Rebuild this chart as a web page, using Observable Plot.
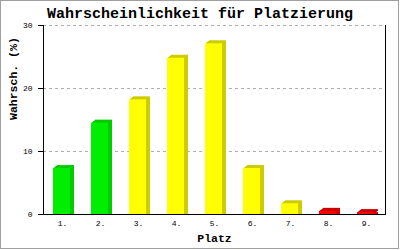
<!DOCTYPE html>
<html><head><meta charset="utf-8">
<script src="https://cdn.jsdelivr.net/npm/d3@7"></script>
<script src="https://cdn.jsdelivr.net/npm/@observablehq/plot@0.6"></script>
<style>
html,body{margin:0;padding:0;background:#fff}
#wrap{position:relative;width:400px;height:250px}
#wrap svg{display:block}
#border{position:absolute;left:0;top:0;width:397px;height:247px;border:1px solid #a0a0a0;pointer-events:none}
</style></head><body><div id="wrap"><div id="border"></div></div>
<script>
const title = "Wahrscheinlichkeit für Platzierung";
const yLabel = "Wahrsch. (%)";
const xLabel = "Platz";
const places = ["1.", "2.", "3.", "4.", "5.", "6.", "7.", "8.", "9."];
const values = [7.3, 14.5, 18.2, 24.8, 27.1, 7.3, 1.7, 0.5, 0.3];
const frontColors = ["#00ee00", "#00ee00", "#ffff00", "#ffff00", "#ffff00", "#ffff00", "#ffff00", "#ff0000", "#ff0000"];
const sideColors = ["#00cc00", "#00cc00", "#cccc00", "#cccc00", "#cccc00", "#cccc00", "#cccc00", "#cc0000", "#cc0000"];
const yTicks = [0, 10, 20, 30];
const gridTicks = [10, 20, 30];

const data = places.map((p, i) => ({p, v: values[i], front: frontColors[i], side: sideColors[i]}));
const font = "'Liberation Mono', 'DejaVu Sans Mono', monospace";
const barOpts = {x: "p", y: "v", insetLeft: 10, insetRight: 11};
const sideMarks = [1, 2, 3, 4].map(i => Plot.barY(data, {...barOpts, fill: "side", dx: i, dy: -0.75 * i}));
sideMarks.push(Plot.barY(data, {...barOpts, fill: "side", dx: 4}));

const chart = Plot.plot({
  width: 400, height: 250,
  marginLeft: 43, marginRight: 15, marginTop: 25, marginBottom: 36,
  style: {fontFamily: font, fontSize: "8px", background: "transparent", overflow: "visible"},
  x: {type: "band", domain: places, padding: 0, label: null},
  y: {domain: [0, 30], label: null},
  marks: [
    Plot.gridY(gridTicks, {stroke: "#b0b0b0", strokeOpacity: 1, strokeDasharray: "3,3"}),
    ...sideMarks,
    Plot.barY(data, {...barOpts, fill: "front"}),
    Plot.axisY(yTicks, {tickSize: 5, tickPadding: 6, label: null, stroke: "#000", fill: "#000"}),
    Plot.axisX({tickSize: 0, tickPadding: 6, label: null, fill: "#000"}),
    Plot.frame({anchor: "left", stroke: "#000"}),
    Plot.frame({anchor: "right", stroke: "#000"}),
    Plot.frame({anchor: "bottom", stroke: "#000"}),
    Plot.text([title], {frameAnchor: "top", lineAnchor: "middle", dx: -14.5, dy: -12, fontSize: 15, fontWeight: "bold", fill: "#000"}),
    Plot.text([yLabel], {frameAnchor: "left", lineAnchor: "middle", rotate: -90, dx: -30, fontSize: 11.5, fontWeight: "bold", fill: "#000"}),
    Plot.text([xLabel], {frameAnchor: "bottom", lineAnchor: "middle", dy: 24, fontSize: 11.5, fontWeight: "bold", fill: "#000"})
  ]
});
document.getElementById("wrap").prepend(chart);
</script>
</body></html>
